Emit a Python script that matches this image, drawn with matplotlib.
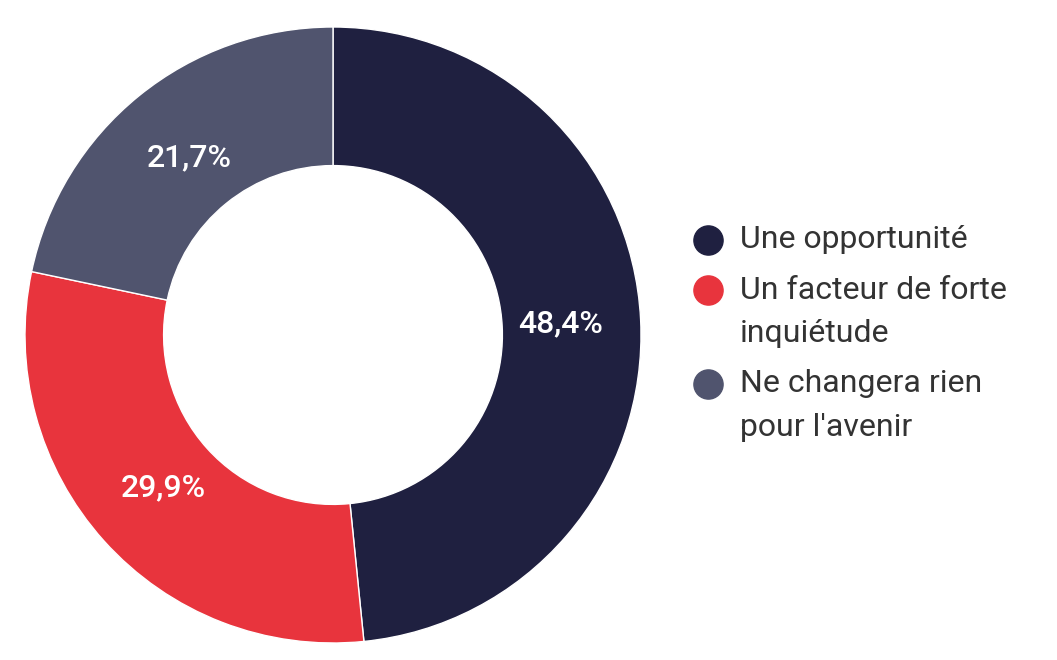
import matplotlib.pyplot as plt
from matplotlib.lines import Line2D
import numpy as np

# Data
labels = ["Une opportunité", "Un facteur de forte\ninquiétude", "Ne changera rien\npour l'avenir"]
values = [48.4, 29.9, 21.7]
value_text = ["48,4%", "29,9%", "21,7%"]
colors = ["#1f2040", "#e8343d", "#50546e"]

plt.rcParams['font.family'] = ['Roboto', 'DejaVu Sans']

fig = plt.figure(figsize=(10.57, 6.6), dpi=100, facecolor='white')

# pie axes: centre ~(333, 335) px, outer radius ~308 px
W, H = 1057, 660
cx, cy, r = 333, 660 - 335, 308
ax = fig.add_axes([(cx - r) / W, (cy - r) / H, 2 * r / W, 2 * r / H])

wedges, texts = ax.pie(values, colors=colors, startangle=90, counterclock=False,
                       radius=1.0,
                       wedgeprops=dict(width=0.45, edgecolor='white', linewidth=1))
ax.set_aspect('equal')
ax.set_xlim(-1, 1)
ax.set_ylim(-1, 1)

# percentage labels at mid-ring
ang = 90.0
for v, t in zip(values, value_text):
    span = v / sum(values) * 360
    mid = np.deg2rad(ang - span / 2)
    ang -= span
    rr = 0.74
    ax.text(rr * np.cos(mid), rr * np.sin(mid), t, color='white', fontsize=23,
            fontweight='medium', ha='center', va='center')

# legend drawn by hand
legend_x = 740 / W
marker_x = 708 / W
line_h = 44
y = 240
for lab, col in zip(labels, colors):
    lines = lab.split('\n')
    fig.add_artist(Line2D([marker_x], [1 - y / H], marker='o', markersize=21,
                          color=col, transform=fig.transFigure))
    for k, ln in enumerate(lines):
        fig.text(legend_x, 1 - (y + k * line_h) / H, ln, fontsize=23,
                 color='#333333', ha='left', va='center')
    y += (len(lines) - 1) * line_h + 50

fig.savefig('out.png', dpi=100, facecolor='white')
